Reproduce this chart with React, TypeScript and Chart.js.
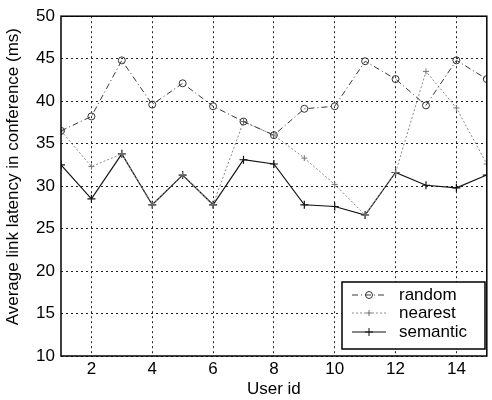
import React, { useEffect, useRef } from "react";
import { Chart, registerables } from "chart.js";

Chart.register(...registerables);

const userIds = [1, 2, 3, 4, 5, 6, 7, 8, 9, 10, 11, 12, 13, 14, 15];
const randomLatency = [36.5, 38.2, 44.8, 39.6, 42.1, 39.4, 37.6, 36.0, 39.1, 39.4, 44.7, 42.6, 39.5, 44.8, 42.6];
const nearestLatency = [36.5, 32.3, 33.8, 27.8, 31.3, 27.8, 37.6, 36.0, 33.3, 30.2, 26.6, 31.6, 43.5, 39.2, 32.6];
const semanticLatency = [32.5, 28.5, 33.8, 27.8, 31.3, 27.8, 33.1, 32.6, 27.8, 27.6, 26.6, 31.6, 30.1, 29.8, 31.3];
const xTicks = [2, 4, 6, 8, 10, 12, 14];
const yTicks = [10, 15, 20, 25, 30, 35, 40, 45, 50];
const seriesNames = ["random", "nearest", "semantic"];

const FONT = "'Liberation Sans', Arial, sans-serif";

function toPts(vals: number[]) {
  return userIds.map((x, i) => ({ x, y: vals[i] }));
}

const framePlugin = {
  id: "frame",
  afterDatasetsDraw(chart: any) {
    const { ctx, chartArea: a } = chart;
    ctx.save();
    ctx.strokeStyle = "#000";
    ctx.lineWidth = 1.5;
    ctx.setLineDash([]);
    ctx.strokeRect(a.left, a.top, a.right - a.left, a.bottom - a.top);
    ctx.restore();
  },
};

function drawMarker(ctx: CanvasRenderingContext2D, style: string, x: number, y: number, r: number) {
  ctx.beginPath();
  if (style === "circle") {
    ctx.arc(x, y, r, 0, Math.PI * 2);
    ctx.stroke();
  } else if (style === "cross") {
    ctx.moveTo(x - r, y);
    ctx.lineTo(x + r, y);
    ctx.moveTo(x, y - r);
    ctx.lineTo(x, y + r);
    ctx.stroke();
  }
}

const legendPlugin = {
  id: "insideLegend",
  afterDraw(chart: any) {
    const { ctx } = chart;
    const left = 342, top = 282, w = 143, h = 67;
    ctx.save();
    ctx.fillStyle = "#fff";
    ctx.fillRect(left, top, w, h);
    ctx.strokeStyle = "#000";
    ctx.lineWidth = 1.5;
    ctx.setLineDash([]);
    ctx.strokeRect(left, top, w, h);
    const rows = [295, 313, 332];
    chart.data.datasets.forEach((ds: any, i: number) => {
      const y = rows[i];
      ctx.strokeStyle = ds.borderColor;
      ctx.lineWidth = ds.borderWidth;
      ctx.setLineDash(ds.borderDash || []);
      ctx.beginPath();
      ctx.moveTo(352, y);
      ctx.lineTo(386, y);
      ctx.stroke();
      ctx.setLineDash([]);
      ctx.lineWidth = 1;
      ctx.strokeStyle = ds.pointBorderColor;
      drawMarker(ctx, ds.pointStyle, 369, y, ds.pointRadius);
      ctx.fillStyle = "#000";
      ctx.font = `17px ${FONT}`;
      ctx.textBaseline = "middle";
      ctx.textAlign = "left";
      ctx.fillText(ds.label, 399, y);
    });
    ctx.restore();
  },
};

export default function App() {
  const ref = useRef<HTMLCanvasElement>(null);
  useEffect(() => {
    if (!ref.current) return;
    const chart = new Chart(ref.current, {
      type: "line",
      data: {
        datasets: [
          {
            label: seriesNames[0],
            data: toPts(randomLatency),
            borderColor: "#3a3a3a",
            borderWidth: 1,
            borderDash: [6, 3, 1, 3],
            pointStyle: "circle",
            pointRadius: 3.5,
            pointBorderColor: "#333",
            pointBackgroundColor: "rgba(0,0,0,0)",
            pointBorderWidth: 1,
            tension: 0,
          },
          {
            label: seriesNames[1],
            data: toPts(nearestLatency),
            borderColor: "#8a8a8a",
            borderWidth: 1,
            borderDash: [2, 2],
            pointStyle: "cross",
            pointRadius: 3,
            pointBorderColor: "#777",
            pointBackgroundColor: "#777",
            pointBorderWidth: 1,
            tension: 0,
          },
          {
            label: seriesNames[2],
            data: toPts(semanticLatency),
            borderColor: "#111",
            borderWidth: 1.2,
            borderDash: [],
            pointStyle: "cross",
            pointRadius: 4,
            pointBorderColor: "#111",
            pointBackgroundColor: "#111",
            pointBorderWidth: 1.2,
            tension: 0,
          },
        ],
      },
      options: {
        animation: false,
        responsive: false,
        devicePixelRatio: 1,
        layout: { padding: { top: 15, right: 0, left: 0, bottom: 0 } },
        plugins: {
          legend: { display: false },
          tooltip: { enabled: false },
        },
        scales: {
          x: {
            type: "linear",
            min: 1,
            max: 15,
            afterBuildTicks: (s: any) => {
              s.ticks = xTicks.map((v) => ({ value: v }));
            },
            afterFit: (s: any) => {
              s.height = 44;
            },
            grid: {
              color: "#222",
              lineWidth: 1,
              drawTicks: false,
            },
            border: { display: false, dash: [2, 3] },
            ticks: {
              padding: 3,
              color: "#000",
              font: { family: FONT, size: 17 },
              maxRotation: 0,
              autoSkip: false,
            },
            title: {
              display: true,
              text: "User id",
              color: "#000",
              font: { family: FONT, size: 17 },
              padding: { top: 0, bottom: 0 },
            },
          },
          y: {
            type: "linear",
            min: 10,
            max: 50,
            afterBuildTicks: (s: any) => {
              s.ticks = yTicks.map((v) => ({ value: v }));
            },
            afterFit: (s: any) => {
              s.width = 61;
            },
            grid: {
              color: "#222",
              lineWidth: 1,
              drawTicks: false,
            },
            border: { display: false, dash: [2, 3] },
            ticks: {
              padding: 6,
              color: "#000",
              font: { family: FONT, size: 17 },
            },
            title: {
              display: true,
              text: "    Average link latency in conference (ms)",
              color: "#000",
              font: { family: FONT, size: 17 },
              padding: { top: 3, bottom: 0 },
            },
          },
        },
      },
      plugins: [framePlugin, legendPlugin],
    });
    return () => chart.destroy();
  }, []);
  return (
    <canvas
      ref={ref}
      width={492}
      height={400}
      style={{ position: "absolute", left: 0, top: 0, width: 492, height: 400, background: "#fff" }}
    />
  );
}
